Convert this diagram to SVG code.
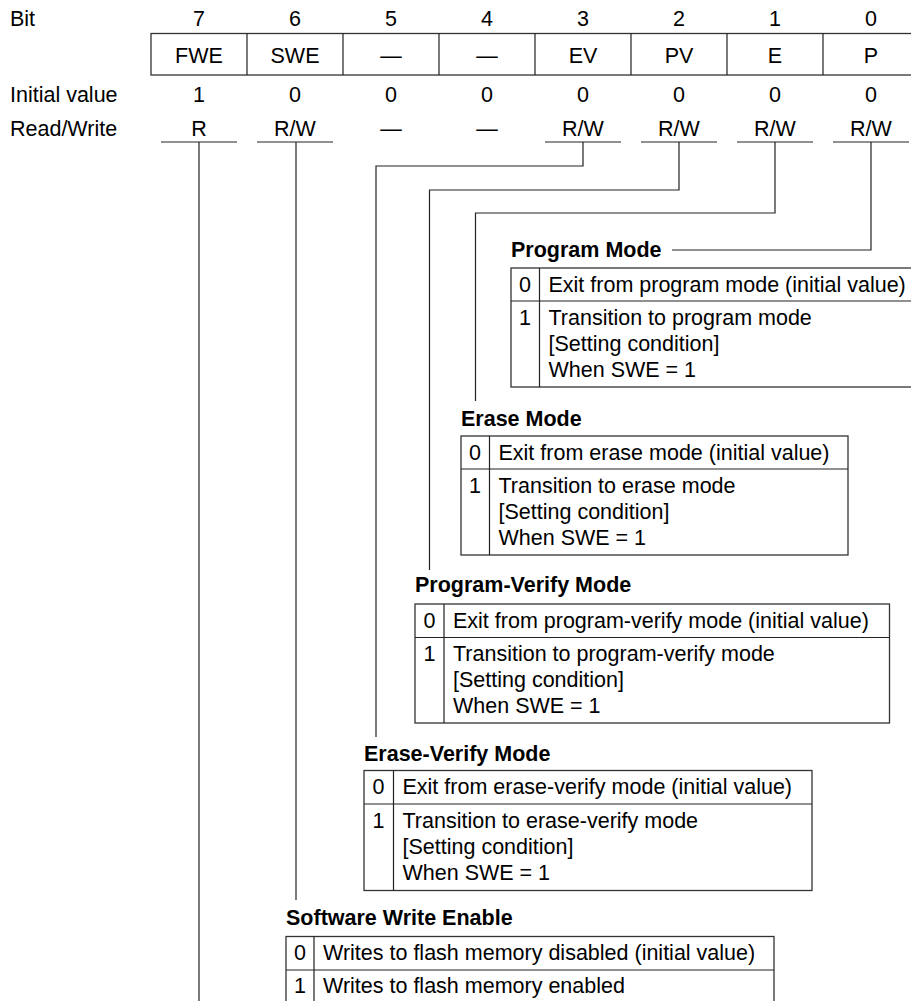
<svg xmlns="http://www.w3.org/2000/svg" width="911" height="1001" viewBox="0 0 911 1001">
<style>
text{font-family:"Liberation Sans",Arial,sans-serif;font-size:21.5px;fill:#000}
.c{text-anchor:middle}
.b{font-weight:bold}
.ln{stroke:#222;stroke-width:1.2;fill:none}
.bx{stroke:#333;stroke-width:1.3;fill:#fff}
</style>
<rect width="911" height="1001" fill="#fff"/>
<g id="register">
<text x="10" y="26">Bit</text>
<text x="10" y="101.5">Initial value</text>
<text x="10" y="135.5">Read/Write</text>
<g class="c">
<text x="199" y="26" class="c">7</text><text x="295" y="26" class="c">6</text><text x="391" y="26" class="c">5</text><text x="487" y="26" class="c">4</text><text x="583" y="26" class="c">3</text><text x="679" y="26" class="c">2</text><text x="775" y="26" class="c">1</text><text x="871" y="26" class="c">0</text>
</g>
<rect class="bx" x="151" y="33.5" width="768" height="41.5"/>
<path class="ln" d="M247 33.5V75M343 33.5V75M439 33.5V75M535 33.5V75M631 33.5V75M727 33.5V75M823 33.5V75"/>
<text x="199" y="63" class="c">FWE</text><text x="295" y="63" class="c">SWE</text><text x="391" y="63" class="c">—</text><text x="487" y="63" class="c">—</text><text x="583" y="63" class="c">EV</text><text x="679" y="63" class="c">PV</text><text x="775" y="63" class="c">E</text><text x="871" y="63" class="c">P</text>
<text x="199" y="101.5" class="c">1</text><text x="295" y="101.5" class="c">0</text><text x="391" y="101.5" class="c">0</text><text x="487" y="101.5" class="c">0</text><text x="583" y="101.5" class="c">0</text><text x="679" y="101.5" class="c">0</text><text x="775" y="101.5" class="c">0</text><text x="871" y="101.5" class="c">0</text>
<text x="199" y="135.5" class="c">R</text><text x="295" y="135.5" class="c">R/W</text><text x="391" y="135.5" class="c">—</text><text x="487" y="135.5" class="c">—</text><text x="583" y="135.5" class="c">R/W</text><text x="679" y="135.5" class="c">R/W</text><text x="775" y="135.5" class="c">R/W</text><text x="871" y="135.5" class="c">R/W</text>
<path class="ln" d="M161 142H237M257 142H333M545 142H621M641 142H717M737 142H813M833 142H909"/>
</g>
<g id="connectors">
<path class="ln" d="M199 142V1001"/>
<path class="ln" d="M296 142V900"/>
<path class="ln" d="M583 142V166H376V737"/>
<path class="ln" d="M679 142V190H429.5V570"/>
<path class="ln" d="M775 142V213H475.5V401"/>
<path class="ln" d="M871 142V250H672"/>
</g>
<g id="program-mode">
<text x="511" y="257" class="b">Program Mode</text>
<rect class="bx" x="511" y="268" width="404" height="119"/>
<path class="ln" d="M511 301H915M539.5 268V387"/>
<text x="525" y="291.5" class="c">0</text><text x="548.5" y="291.5">Exit from program mode (initial value)</text>
<text x="525" y="325" class="c">1</text><text x="548.5" y="325">Transition to program mode</text>
<text x="548.5" y="351">[Setting condition]</text><text x="548.5" y="377">When SWE = 1</text>
</g>
<g id="erase-mode">
<text x="461" y="425.5" class="b">Erase Mode</text>
<rect class="bx" x="461" y="436" width="387" height="119"/>
<path class="ln" d="M461 469H848M489.5 436V555"/>
<text x="475" y="459.5" class="c">0</text><text x="498.5" y="459.5">Exit from erase mode (initial value)</text>
<text x="475" y="493" class="c">1</text><text x="498.5" y="493">Transition to erase mode</text>
<text x="498.5" y="519">[Setting condition]</text><text x="498.5" y="545">When SWE = 1</text>
</g>
<g id="program-verify-mode">
<text x="415" y="592" class="b">Program-Verify Mode</text>
<rect class="bx" x="415" y="604" width="474.5" height="119"/>
<path class="ln" d="M415 637.5H889.5M444 604V723"/>
<text x="429.5" y="627.5" class="c">0</text><text x="453" y="627.5">Exit from program-verify mode (initial value)</text>
<text x="429.5" y="661" class="c">1</text><text x="453" y="661">Transition to program-verify mode</text>
<text x="453" y="687">[Setting condition]</text><text x="453" y="713">When SWE = 1</text>
</g>
<g id="erase-verify-mode">
<text x="364" y="761" class="b">Erase-Verify Mode</text>
<rect class="bx" x="364" y="770.5" width="448" height="120"/>
<path class="ln" d="M364 804H812M393.5 770.5V890.5"/>
<text x="378.5" y="794" class="c">0</text><text x="402.5" y="794">Exit from erase-verify mode (initial value)</text>
<text x="378.5" y="828" class="c">1</text><text x="402.5" y="828">Transition to erase-verify mode</text>
<text x="402.5" y="854">[Setting condition]</text><text x="402.5" y="880">When SWE = 1</text>
</g>
<g id="software-write-enable">
<text x="286" y="925" class="b">Software Write Enable</text>
<rect class="bx" x="286" y="936.5" width="488" height="67"/>
<path class="ln" d="M286 970H774M314 936.5V1003"/>
<text x="300" y="960" class="c">0</text><text x="323" y="960">Writes to flash memory disabled (initial value)</text>
<text x="300" y="993" class="c">1</text><text x="323" y="993">Writes to flash memory enabled</text>
</g>
</svg>
